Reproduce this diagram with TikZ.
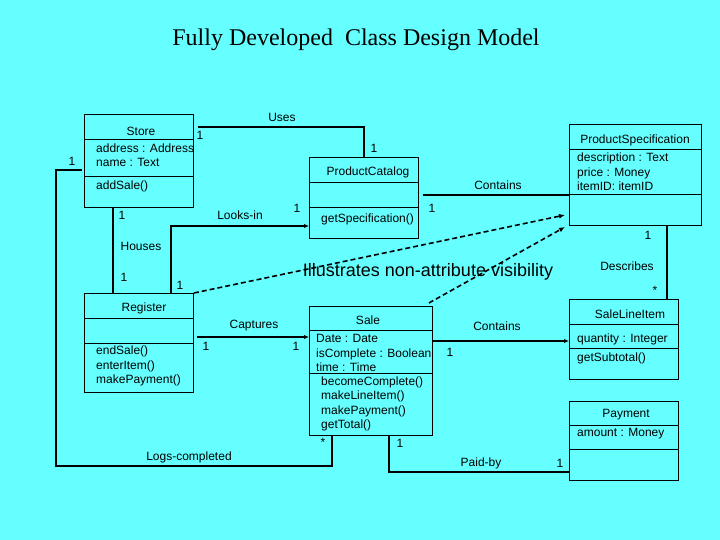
\documentclass[tikz,border=0pt]{standalone}
\usepackage{fontspec}
\setmainfont{Liberation Sans}
\newfontfamily\titlefont{Liberation Serif}
\usetikzlibrary{arrows.meta,positioning}
\definecolor{bg}{HTML}{66FFFF}
\tikzset{
  cls/.style={draw,line width=0.9pt,inner sep=0pt,anchor=north west},
  sep/.style={line width=0.9pt},
  cname/.style={inner sep=0pt},
  memb/.style={inner sep=0pt,anchor=west,align=left},
  assoc/.style={line width=1.8pt},
  nav/.style={assoc,-{Latex[length=5pt,width=4.5pt]}},
  dep/.style={line width=1.6pt,dash pattern=on 5pt off 3pt,-{Latex[length=6pt,width=5pt]}},
  mult/.style={inner sep=0pt},
}
\begin{document}
\begin{tikzpicture}[x=1pt,y=-1pt,font=\fontsize{12}{14.5}\selectfont]
\fill[bg] (0,0) rectangle (720,540);
\useasboundingbox (0,0) rectangle (720,540);
\node[font=\titlefont\fontsize{24}{28}\selectfont] (title) at (356,40) {Fully Developed\ \ Class Design Model};

% classes
\node[cls,minimum width=109pt,minimum height=93pt] (store) at (84,114) {};
\draw[sep] ([yshift=-25pt]store.north west) -- ++(109,0);
\draw[sep] ([yshift=-62pt]store.north west) -- ++(109,0);
\node[cname] (storeN) at (141,131) {Store};
\node[memb] (storeA) at (96,155) {address : Address\\name : Text};
\node[memb] (storeM) at (96,186) {addSale()};

\node[cls,minimum width=109pt,minimum height=81pt] (catalog) at (309,157) {};
\draw[sep] ([yshift=-25pt]catalog.north west) -- ++(109,0);
\draw[sep] ([yshift=-50pt]catalog.north west) -- ++(109,0);
\node[cname] (catalogN) at (368,172) {ProductCatalog};
\node[memb] (catalogM) at (321,219) {getSpecification()};

\node[cls,minimum width=132pt,minimum height=101pt] (spec) at (569,124) {};
\draw[sep] ([yshift=-25pt]spec.north west) -- ++(132,0);
\draw[sep] ([yshift=-70pt]spec.north west) -- ++(132,0);
\node[cname] (specN) at (635,140) {ProductSpecification};
\node[memb] (specA) at (577,172) {description : Text\\price : Money\\itemID: itemID};

\node[cls,minimum width=109pt,minimum height=99pt] (register) at (84,293) {};
\draw[sep] ([yshift=-25pt]register.north west) -- ++(109,0);
\draw[sep] ([yshift=-50pt]register.north west) -- ++(109,0);
\node[cname] (registerN) at (144,308) {Register};
\node[memb] (registerM) at (96,366) {endSale()\\enterItem()\\makePayment()};

\node[cls,minimum width=123pt,minimum height=129pt] (sale) at (309,306) {};
\draw[sep] ([yshift=-24pt]sale.north west) -- ++(123,0);
\draw[sep] ([yshift=-67pt]sale.north west) -- ++(123,0);
\node[cname] (saleN) at (368,320) {Sale};
\node[memb] (saleA) at (316,353) {Date : Date\\isComplete : Boolean\\time : Time};
\node[memb] (saleM) at (321,404) {becomeComplete()\\makeLineItem()\\makePayment()\\getTotal()};

\node[cls,minimum width=109pt,minimum height=80pt] (sli) at (569,299) {};
\draw[sep] ([yshift=-25pt]sli.north west) -- ++(109,0);
\draw[sep] ([yshift=-49pt]sli.north west) -- ++(109,0);
\node[cname] (sliN) at (630,314) {SaleLineItem};
\node[memb] (sliA) at (577,339) {quantity : Integer};
\node[memb] (sliM) at (577,358) {getSubtotal()};

\node[cls,minimum width=109pt,minimum height=79pt] (payment) at (569,401) {};
\draw[sep] ([yshift=-24pt]payment.north west) -- ++(109,0);
\draw[sep] ([yshift=-48pt]payment.north west) -- ++(109,0);
\node[cname] (paymentN) at (626,415) {Payment};
\node[memb] (paymentA) at (577,434) {amount : Money};

% associations
\draw[assoc] ([xshift=4pt,yshift=-13pt]store.north east) -| (catalog.north);
\node[mult] at (282,117) {Uses};
\node[mult] at (200,135) {1};
\node[mult] at (374,148) {1};

\draw[assoc] ([xshift=4pt,yshift=-38pt]catalog.north east) coordinate (c1) -- (c1 -| spec.west);
\node[mult] at (498,185) {Contains};
\node[mult] at (432,208) {1};

\draw[assoc] ([xshift=29pt]store.south west) -- ([xshift=29pt]register.north west);
\node[mult] at (122,215) {1};
\node[mult] at (141,246) {Houses};
\node[mult] at (124,277) {1};

\draw[nav] ([xshift=87pt]register.north west) |- ([yshift=-69pt]catalog.north west);
\node[mult] at (240,215) {Looks-in};
\node[mult] at (297,208) {1};
\node[mult] at (180,285) {1};

\draw[nav] ([xshift=3pt,yshift=-44pt]register.north east) coordinate (r1) -- (r1 -| sale.west);
\node[mult] at (254,326) {Captures};
\node[mult] at (206,346) {1};
\node[mult] at (296,346) {1};

\draw[nav] ([yshift=-35pt]sale.north east) coordinate (s1) -- (s1 -| sli.west);
\node[mult] at (497,326) {Contains};
\node[mult] at (450,352) {1};

\draw[assoc] ([xshift=-35pt]spec.south east) coordinate (d1) -- (d1 |- sli.north);
\node[mult] at (648,235) {1};
\node[mult] at (627,266) {Describes};
\node[mult] at (655,290) {*};

\draw[assoc] ([xshift=80pt]sale.south west) |- ([yshift=9pt]payment.south west);
\node[mult] at (400,443) {1};
\node[mult] at (481,463) {Paid-by};
\node[mult] at (560,463) {1};

\coordinate (logbend) at (56,466);
\draw[assoc] ([xshift=-2pt,yshift=-56pt]store.north west) -| (logbend) -| ([xshift=23pt]sale.south west);
\node[mult] at (72,161) {1};
\node[mult] at (189,457) {Logs-completed};
\node[mult] at (323,442) {*};

% visibility
\draw[dep] (register.north east) -- ([xshift=-4pt,yshift=-91pt]spec.north west);
\draw[dep] ([xshift=-4pt,yshift=3pt]sale.north east) -- ([xshift=-4pt,yshift=-103pt]spec.north west);
\node[inner sep=0pt,font=\fontsize{18}{20}\selectfont] (note) at (428,272) {Illustrates non-attribute visibility};
\end{tikzpicture}
\end{document}
